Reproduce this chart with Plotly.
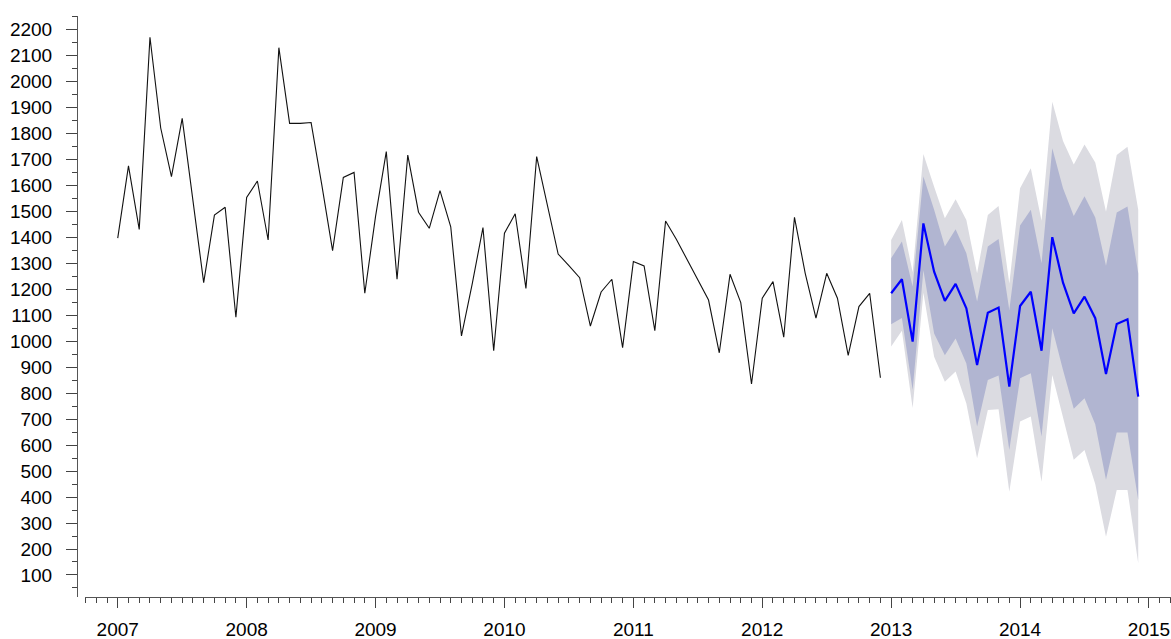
import plotly.graph_objects as go

# Monthly observations, Jan 2007 - Dec 2012
observed = [
    1396, 1674, 1430, 2169, 1820, 1633, 1857, 1530, 1225, 1485, 1515, 1092,
    1553, 1616, 1389, 2129, 1838, 1838, 1841, 1600, 1348, 1630, 1649, 1184,
    1480, 1729, 1238, 1716, 1496, 1434, 1579, 1440, 1020, 1220, 1437, 963,
    1415, 1490, 1203, 1710, 1520, 1335, 1290, 1244, 1058, 1189, 1238, 975,
    1306, 1289, 1040, 1462, 1392, 1314, 1236, 1158, 955, 1257, 1148, 835,
    1165, 1229, 1015, 1476, 1261, 1088, 1261, 1165, 945, 1133, 1184, 859,
]
obs_start = 2007

# Point forecast and prediction intervals, Jan 2013 - Dec 2014
fc_mean = [
    1184, 1238, 998, 1453, 1267, 1155, 1220, 1126, 908, 1109, 1129, 825,
    1135, 1190, 963, 1400, 1225, 1107, 1171, 1088, 873, 1066, 1084, 786,
]
fc_hi80 = [
    1319, 1383, 1210, 1633, 1505, 1364, 1430, 1338, 1152, 1364, 1393, 1120,
    1445, 1505, 1300, 1742, 1588, 1481, 1557, 1476, 1290, 1495, 1518, 1261,
]
fc_lo80 = [
    1065, 1089, 812, 1273, 1029, 946, 1010, 914, 671, 850, 868, 581,
    857, 876, 633, 1049, 889, 740, 780, 680, 466, 648, 648, 389,
]
fc_hi95 = [
    1389, 1466, 1265, 1720, 1594, 1473, 1546, 1466, 1261, 1485, 1520, 1222,
    1588, 1665, 1463, 1921, 1770, 1680, 1757, 1687, 1498, 1716, 1748, 1505,
]
fc_lo95 = [
    979, 1040, 743, 1186, 940, 844, 883, 760, 549, 735, 738, 420,
    691, 710, 459, 870, 710, 543, 581, 450, 247, 427, 427, 145,
]
fc_start = 2013

year_ticks = list(range(2007, 2016))

t_obs = [obs_start + i / 12 for i in range(len(observed))]
t_fc = [fc_start + i / 12 for i in range(len(fc_mean))]

fig = go.Figure()

# 95% band
fig.add_trace(go.Scatter(
    x=t_fc + t_fc[::-1], y=fc_hi95 + fc_lo95[::-1],
    fill="toself", fillcolor="#DBDBE1", mode="lines",
    line=dict(width=0, color="#DBDBE1"), hoverinfo="skip", showlegend=False,
))
# 80% band
fig.add_trace(go.Scatter(
    x=t_fc + t_fc[::-1], y=fc_hi80 + fc_lo80[::-1],
    fill="toself", fillcolor="#B1B5D1", mode="lines",
    line=dict(width=0, color="#B1B5D1"), hoverinfo="skip", showlegend=False,
))
# point forecast
fig.add_trace(go.Scatter(
    x=t_fc, y=fc_mean, mode="lines",
    line=dict(color="#0000FF", width=2.2), showlegend=False,
))
# observed series
fig.add_trace(go.Scatter(
    x=t_obs, y=observed, mode="lines",
    line=dict(color="#111111", width=1.1), showlegend=False,
))

tick_font = dict(family="Liberation Sans, Arial, sans-serif", size=19, color="#000000")

fig.update_layout(
    width=1171, height=639,
    margin=dict(l=77, r=0, t=16, b=42),
    paper_bgcolor="white", plot_bgcolor="white",
    showlegend=False,
    xaxis=dict(
        domain=[8 / 1094, 1],
        range=[2006.746, 2015.171],
        automargin=False,
        tickvals=year_ticks, tickformat="d",
        ticks="outside", ticklen=10, tickwidth=1, tickcolor="#444444",
        minor=dict(ticks="outside", ticklen=5, tickwidth=1, tickcolor="#444444",
                   tick0=2007, dtick=1 / 12, showgrid=False),
        showline=True, linecolor="#555555", linewidth=1,
        showgrid=False, zeroline=False,
        tickfont=tick_font, ticklabelstandoff=5,
    ),
    yaxis=dict(
        anchor="free", position=0,
        range=[15.3, 2251],
        automargin=False,
        tick0=0, dtick=100, tickformat="d",
        ticks="outside", ticklen=11, tickwidth=1, tickcolor="#444444",
        minor=dict(ticks="outside", ticklen=5, tickwidth=1, tickcolor="#444444",
                   tick0=0, dtick=50, showgrid=False),
        showline=True, linecolor="#555555", linewidth=1,
        showgrid=False, zeroline=False,
        tickfont=tick_font, ticklabelstandoff=10,
    ),
)

fig.write_html("out.html", config={"displayModeBar": False})
